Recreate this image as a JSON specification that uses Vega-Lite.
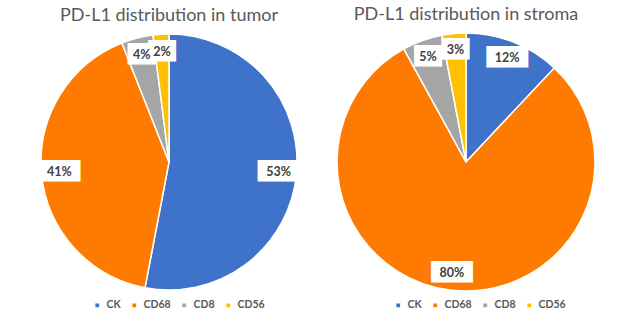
{
  "$schema": "https://vega.github.io/schema/vega-lite/v6.json",
  "padding": {"left": 38, "top": 6, "right": 0, "bottom": 0},
  "datasets": {
    "d": [
      {"panel": "tumor", "cell": "CK", "ord": 1, "value": 0.53},
      {"panel": "tumor", "cell": "CD68", "ord": 2, "value": 0.41},
      {"panel": "tumor", "cell": "CD8", "ord": 3, "value": 0.04},
      {"panel": "tumor", "cell": "CD56", "ord": 4, "value": 0.02},
      {"panel": "stroma", "cell": "CK", "ord": 1, "value": 0.12},
      {"panel": "stroma", "cell": "CD68", "ord": 2, "value": 0.80},
      {"panel": "stroma", "cell": "CD8", "ord": 3, "value": 0.05},
      {"panel": "stroma", "cell": "CD56", "ord": 4, "value": 0.03}
    ]
  },
  "spacing": 34,
  "hconcat": [
    {
      "title": {"text": "PD-L1 distribution in tumor", "fontSize": 18, "font": "Lato", "fontWeight": "normal", "color": "#595959", "offset": 6},
      "width": 260, "height": 260,
      "data": {"name": "d"},
      "transform": [{"filter": "datum.panel == 'tumor'"}],
      "encoding": {
        "theta": {"field": "value", "type": "quantitative", "stack": true},
        "order": {"field": "ord", "type": "quantitative"},
        "color": {
          "field": "cell", "type": "nominal",
          "scale": {"domain": ["CK", "CD68", "CD8", "CD56"], "range": ["#3F72C9", "#FF7A00", "#A5A5A5", "#FFC000"]},
          "legend": {"orient": "none", "legendX": 53, "legendY": 268, "direction": "horizontal", "title": null, "symbolType": "square", "symbolSize": 28, "labelFontSize": 10.5, "labelFontWeight": "bold", "labelColor": "#595959", "labelFont": "Lato", "labelOffset": 4, "columnPadding": 7}
        }
      },
      "layer": [
        {"mark": {"type": "arc", "outerRadius": 128, "stroke": "white", "strokeWidth": 1.5}},
        {"mark": {"type": "text", "radius": 110, "font": "DejaVu Sans", "fontSize": 18},
         "encoding": {"text": {"condition": {"test": "datum.value >= 0.1", "value": "███"}, "value": "██"}, "color": {"value": "white"}}},
        {"mark": {"type": "text", "radius": 110, "fontSize": 12.5, "fontWeight": "bold", "font": "Lato"},
         "encoding": {"text": {"field": "value", "type": "quantitative", "format": ".0%"}, "color": {"value": "#404040"}}}
      ]
    },
    {
      "title": {"text": "PD-L1 distribution in stroma", "fontSize": 18, "font": "Lato", "fontWeight": "normal", "color": "#595959", "offset": 6},
      "width": 260, "height": 260,
      "data": {"name": "d"},
      "transform": [{"filter": "datum.panel == 'stroma'"}],
      "encoding": {
        "theta": {"field": "value", "type": "quantitative", "stack": true},
        "order": {"field": "ord", "type": "quantitative"},
        "color": {
          "field": "cell", "type": "nominal",
          "scale": {"domain": ["CK", "CD68", "CD8", "CD56"], "range": ["#3F72C9", "#FF7A00", "#A5A5A5", "#FFC000"]},
          "legend": {"orient": "none", "legendX": 57, "legendY": 268, "direction": "horizontal", "title": null, "symbolType": "square", "symbolSize": 28, "labelFontSize": 10.5, "labelFontWeight": "bold", "labelColor": "#595959", "labelFont": "Lato", "labelOffset": 4, "columnPadding": 7}
        }
      },
      "layer": [
        {"mark": {"type": "arc", "outerRadius": 129, "stroke": "white", "strokeWidth": 1.5}},
        {"mark": {"type": "text", "radius": 112, "font": "DejaVu Sans", "fontSize": 18},
         "encoding": {"text": {"condition": {"test": "datum.value >= 0.1", "value": "███"}, "value": "██"}, "color": {"value": "white"}}},
        {"mark": {"type": "text", "radius": 112, "fontSize": 12.5, "fontWeight": "bold", "font": "Lato"},
         "encoding": {"text": {"field": "value", "type": "quantitative", "format": ".0%"}, "color": {"value": "#404040"}}}
      ]
    }
  ],
  "resolve": {"scale": {"color": "independent", "theta": "independent"}, "legend": {"color": "independent"}},
  "config": {"view": {"stroke": null}, "font": "Lato"}
}
